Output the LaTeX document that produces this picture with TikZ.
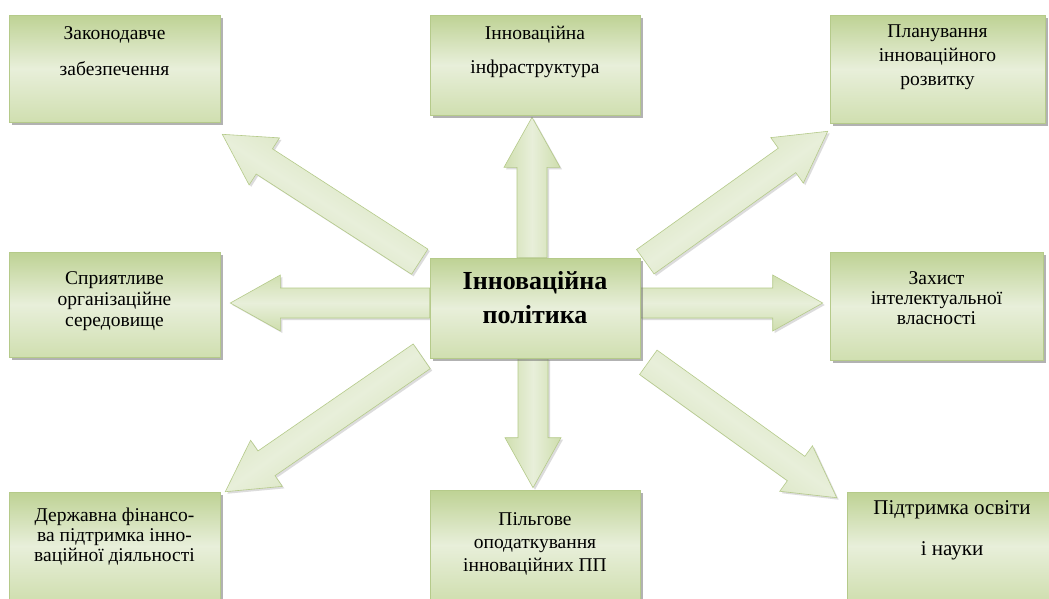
\documentclass[tikz,border=0pt]{standalone}
\usepackage{fontspec}
\setmainfont{Liberation Serif}
\usetikzlibrary{calc,shadows,backgrounds}
\definecolor{olivedark}{HTML}{BED294}
\definecolor{olivemid}{HTML}{D0DFB0}
\definecolor{olivelight}{HTML}{E8EFDA}
\definecolor{oliveline}{HTML}{B5CA8A}
\tikzset{
  box/.style={draw=oliveline, line width=0.6pt, shading angle=-45,
    top color=olivedark, bottom color=olivemid, middle color=olivelight,
    minimum width=211pt, minimum height=107pt, align=center, inner sep=2pt,
    font=\fontsize{19.5}{22}\selectfont,
    drop shadow={shadow xshift=3pt, shadow yshift=-3pt, fill=black!60, opacity=0.5}},
  blockarrow/.style={draw=oliveline, line width=0.6pt,
    top color=olivemid, bottom color=olivemid!90!olivedark, middle color=olivelight,
    drop shadow={shadow xshift=2pt, shadow yshift=-2pt, fill=black!45, opacity=0.3}}
}
\begin{document}
\begin{tikzpicture}[x=1pt,y=-1pt]
\useasboundingbox (0,0) rectangle (1049,598);
\clip (0,0) rectangle (1049,598);
\node[box, text depth=35pt] (zak) at (114.5,68.5) {Законодавче\\[14pt]забезпечення};
\node[box, minimum width=210pt, minimum height=100pt, text depth=31pt] (infra) at (535,65) {Інноваційна\\[12pt]інфраструктура};
\node[box, minimum width=215pt, minimum height=108pt, text depth=27pt] (plan) at (937.5,69) {Планування\\[2pt]інноваційного\\[2pt]розвитку};
\node[box, minimum height=105pt, text depth=11pt] (spr) at (114.5,304.5) {Сприятливе\\[-1pt]організаційне\\[-1pt]середовище};
\node[box, minimum width=210pt, minimum height=100pt, text depth=21pt,
  font=\fontsize{26}{30}\selectfont\bfseries] (pol) at (535,308) {Інноваційна\\[4pt]політика};
\node[box, minimum width=213pt, minimum height=108pt, text depth=15pt] (zah) at (936.5,306) {Захист\\[-2pt]інтелектуальної\\[-2pt]власності};
\node[box, minimum height=108pt, text depth=23pt] (derzh) at (114.5,546) {Державна фінансо-\\[-2pt]ва підтримка інно-\\[-2pt]ваційної діяльності};
\node[box, minimum width=210pt, minimum height=110pt, text depth=5pt] (pilg) at (535,545) {Пільгове\\[1pt]оподаткування\\[1pt]інноваційних ПП};
\node[box, minimum width=210pt, minimum height=108pt, text depth=35pt,
  font=\fontsize{21}{25}\selectfont] (pidt) at (952,546) {Підтримка освіти\\[16pt]і науки};
\coordinate (from1) at ($(pol.north)+(-3,0)$);
\coordinate (to1) at ($(infra.south)+(-3,2)$);
\coordinate (from2) at ($(pol.north west)+(-10,4)$);
\coordinate (to2) at ($(zak.south east)+(2,12)$);
\coordinate (from3) at ($(pol.north east)+(5,4)$);
\coordinate (to3) at ($(plan.south west)+(-2,8)$);
\coordinate (from4) at ($(pol.west)+(0,-5)$);
\coordinate (to4) at ($(spr.east)+(10,-1.5)$);
\coordinate (from5) at ($(pol.east)+(0,-5)$);
\coordinate (to5) at ($(zah.west)+(-7,-3)$);
\coordinate (from6) at ($(pol.south west)+(-8,-2)$);
\coordinate (to6) at ($(derzh.north east)+(5,0)$);
\coordinate (from7) at ($(pol.south)+(-2,0)$);
\coordinate (to7) at ($(pilg.north)+(-2,-2)$);
\coordinate (from8) at ($(pol.south east)+(8,4)$);
\coordinate (to8) at ($(pidt.north west)+(-10,6)$);
\begin{pgfonlayer}{background}
\fill[white] (0,0) rectangle (1049,598);
\foreach \n/\ang in {1/90,2/-32.5,3/35.5,4/0,5/0,6/35.5,7/90,8/-36} {
  \coordinate (hb) at ($(to\n)!50pt!(from\n)$);
  \path[blockarrow, shading angle=\ang]
    ($(from\n)!15pt!90:(to\n)$) -- ($(hb)!15pt!90:(to\n)$) -- ($(hb)!28pt!90:(to\n)$)
    -- (to\n) -- ($(hb)!28pt!-90:(to\n)$) -- ($(hb)!15pt!-90:(to\n)$)
    -- ($(from\n)!15pt!-90:(to\n)$) -- cycle;
}
\end{pgfonlayer}
\end{tikzpicture}
\end{document}
